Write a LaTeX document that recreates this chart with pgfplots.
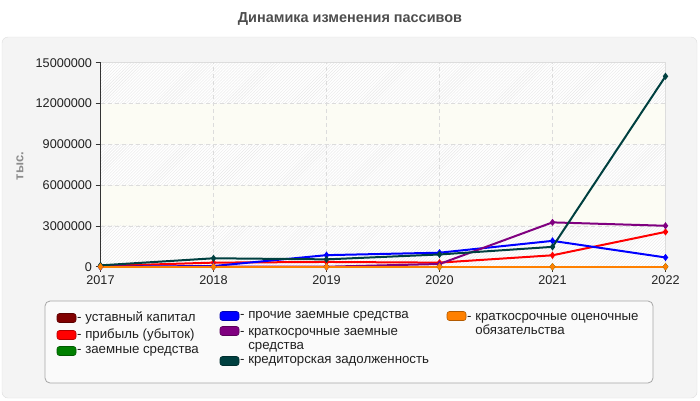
\documentclass[border=0pt]{standalone}
\usepackage{fontspec}
\setmainfont{Liberation Sans}
\usepackage{pgfplots}
\pgfplotsset{compat=1.18}
\usetikzlibrary{patterns}

\definecolor{cBrown}{HTML}{800000}
\definecolor{cRed}{HTML}{FF0000}
\definecolor{cGreen}{HTML}{008000}
\definecolor{cBlue}{HTML}{0000FF}
\definecolor{cPurple}{HTML}{800080}
\definecolor{cTeal}{HTML}{004040}
\definecolor{cOrange}{HTML}{FF8000}
\definecolor{panel}{HTML}{F4F4F4}
\definecolor{panelborder}{HTML}{DDDDDD}
\definecolor{gridc}{HTML}{DCDCDC}
\definecolor{bandy}{HTML}{FCFCF4}
\definecolor{hatch}{HTML}{E8E8E8}
\definecolor{titlec}{HTML}{4D4D4D}

% a layer under the axis background, for the grey panel
\pgfplotsset{
  layers/withpanel/.define layer set={
    panel,axis background,axis grid,axis ticks,axis lines,axis tick labels,
    pre main,main,axis descriptions,axis foreground
  }{
    grid style={/pgfplots/on layer=axis grid},
    tick style={/pgfplots/on layer=axis ticks},
    axis line style={/pgfplots/on layer=axis lines},
    label style={/pgfplots/on layer=axis descriptions},
    legend style={/pgfplots/on layer=axis descriptions},
    title style={/pgfplots/on layer=axis descriptions},
    ticklabel style={/pgfplots/on layer=axis tick labels},
    axis background@ style={/pgfplots/on layer=axis background},
  },
}

\newcommand{\swatch}[3]{% color, x, y
  \filldraw[fill=#1, draw=#1!70!black, rounded corners=2.5bp, line width=0.6bp]
    (#2bp,-#3bp-4.5bp) rectangle (#2bp+19bp,-#3bp+4.5bp);}

\begin{document}
\begin{tikzpicture}[x=1bp,y=1bp]
\pgfplotsset{set layers=withpanel}
% the picture spans 700 x 400
\path (0,0) rectangle (700,-400);
\begin{pgfonlayer}{panel}
\filldraw[fill=panel, draw=panelborder, rounded corners=6bp] (2,-37) rectangle (697,-398);
\end{pgfonlayer}
% title
\node[font=\fontsize{14.5}{16}\selectfont\bfseries, text=titlec] at (350,-19) {Динамика изменения пассивов};
% y label
\node[font=\fontsize{13}{15}\selectfont\bfseries, text=black!45, rotate=90] at (20,-166) {тыс.};

\begin{axis}[
  at={(100.5bp,-266.7bp)}, anchor=south west,
  scale only axis, width=565bp, height=204bp,
  xmin=2017, xmax=2022, ymin=0, ymax=15000000,
  xtick={2017,2018,...,2022},
  ytick={0,3000000,6000000,9000000,12000000,15000000},
  scaled y ticks=false,
  /pgf/number format/.cd, fixed, 1000 sep={}, assume math mode=true, /pgfplots/.cd,
  xticklabel style={/pgf/number format/1000 sep={}},
  tick label style={font=\fontsize{12.7}{14}\selectfont, text=black!87},
  axis x line*=bottom, axis y line*=left,
  axis line style={draw=black!80, line width=1bp, -},
  tick style={draw=black!80, line width=0.8bp},
  tick align=outside, major tick length=5bp,
  xtick pos=bottom, ytick pos=left,
  grid=major,
  major grid style={draw=gridc, dash pattern=on 4bp off 3bp, line width=0.8bp},
  clip=false,
  every axis plot/.append style={line width=2bp, mark=diamond*, mark size=2bp, mark options={solid}},
]
% background bands
\begin{pgfonlayer}{axis background}
\fill[bandy] (axis cs:2017,0) rectangle (axis cs:2022,15000000);
\fill[white] (axis cs:2017,0) rectangle (axis cs:2022,3000000);
\fill[white] (axis cs:2017,6000000) rectangle (axis cs:2022,9000000);
\fill[white] (axis cs:2017,12000000) rectangle (axis cs:2022,15000000);
\fill[pattern=north east lines, pattern color=hatch] (axis cs:2017,0) rectangle (axis cs:2022,3000000);
\fill[pattern=north east lines, pattern color=hatch] (axis cs:2017,6000000) rectangle (axis cs:2022,9000000);
\fill[pattern=north east lines, pattern color=hatch] (axis cs:2017,12000000) rectangle (axis cs:2022,15000000);
\draw[panelborder, line width=0.8bp] (axis cs:2017,15000000) -- (axis cs:2022,15000000) -- (axis cs:2022,0);
\end{pgfonlayer}

% уставный капитал
\addplot[color=cBrown] coordinates {(2017,0)(2018,0)(2019,0)(2020,0)(2021,0)(2022,0)};
% прибыль (убыток)
\addplot[color=cRed] coordinates {(2017,50000)(2018,300000)(2019,350000)(2020,300000)(2021,840000)(2022,2560000)};
% заемные средства
\addplot[color=cGreen] coordinates {(2017,0)(2018,0)(2019,0)(2020,0)(2021,0)(2022,0)};
% прочие заемные средства
\addplot[color=cBlue] coordinates {(2017,0)(2018,50000)(2019,850000)(2020,1030000)(2021,1900000)(2022,680000)};
% краткосрочные заемные средства
\addplot[color=cPurple] coordinates {(2017,0)(2018,0)(2019,0)(2020,200000)(2021,3260000)(2022,3010000)};
% кредиторская задолженность
\addplot[color=cTeal] coordinates {(2017,100000)(2018,620000)(2019,540000)(2020,900000)(2021,1460000)(2022,14000000)};
% краткосрочные оценочные обязательства
\addplot[color=cOrange] coordinates {(2017,0)(2018,0)(2019,0)(2020,0)(2021,0)(2022,0)};
\end{axis}

% legend
\filldraw[fill=white!98!black, draw=black!35, rounded corners=5bp, line width=0.8bp] (45,-301) rectangle (653,-383);
\begin{scope}[every node/.style={anchor=west, inner sep=0pt, font=\fontsize{13.3}{14.5}\selectfont, text=black!87}]
\swatch{cBrown}{57}{318}
\node at (77,-318) {- уставный капитал};
\swatch{cRed}{57}{335}
\node at (77,-335) {- прибыль (убыток)};
\swatch{cGreen}{57}{351}
\node at (77,-351) {- заемные средства};
\swatch{cBlue}{220}{316}
\node at (240,-316) {- прочие заемные средства};
\swatch{cPurple}{220}{331}
\node[anchor=base west] at (240,-335.5) {- \begin{tabular}[t]{@{}l@{}}краткосрочные заемные\\средства\end{tabular}};
\swatch{cTeal}{220}{361}
\node at (240,-361) {- кредиторская задолженность};
\swatch{cOrange}{447}{316}
\node[anchor=base west] at (467,-320.5) {- \begin{tabular}[t]{@{}l@{}}краткосрочные оценочные\\обязательства\end{tabular}};
\end{scope}
\end{tikzpicture}
\end{document}
